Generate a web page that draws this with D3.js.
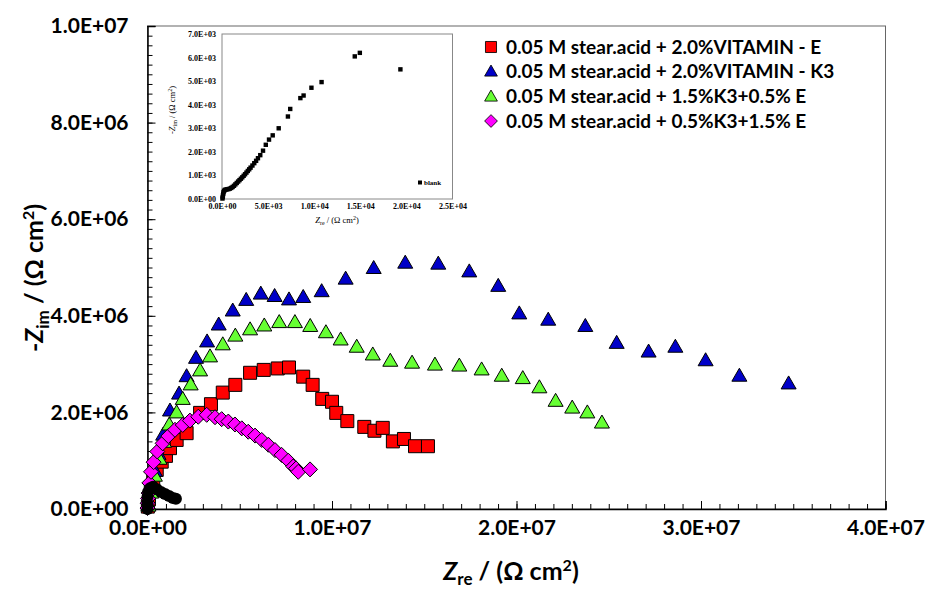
<!DOCTYPE html>
<html><head><meta charset="utf-8">
<script src="https://cdn.jsdelivr.net/npm/d3@7"></script>
<style>body{margin:0;background:#fff}svg{display:block}</style>
</head><body>
<svg id="c" width="928" height="593"></svg>
<script>
// ---------------- DATA ----------------
const seriesNames = [
  "0.05 M stear.acid + 2.0%VITAMIN - E",
  "0.05 M stear.acid + 2.0%VITAMIN - K3",
  "0.05 M stear.acid + 1.5%K3+0.5% E",
  "0.05 M stear.acid + 0.5%K3+1.5% E"
];
// Vitamin E (red squares)
const eX = [0.02e6,0.08e6,0.18e6,0.31e6,0.5e6,0.77e6,1.0e6,1.22e6,1.58e6,2.12e6,2.85e6,3.44e6,4.08e6,4.76e6,5.56e6,6.30e6,7.06e6,7.67e6,8.44e6,8.95e6,9.47e6,10.0e6,10.23e6,10.83e6,11.75e6,12.3e6,12.75e6,13.3e6,13.9e6,14.5e6,15.2e6];
const eY = [0.05e6,0.2e6,0.4e6,0.6e6,0.81e6,0.98e6,1.1e6,1.26e6,1.43e6,1.57e6,1.99e6,2.17e6,2.41e6,2.57e6,2.82e6,2.88e6,2.91e6,2.93e6,2.74e6,2.57e6,2.28e6,2.22e6,1.99e6,1.82e6,1.70e6,1.62e6,1.68e6,1.40e6,1.45e6,1.30e6,1.30e6];
// Vitamin K3 (blue triangles)
const kX = [0.05e6,0.2e6,0.4e6,0.6e6,0.85e6,1.22e6,1.71e6,2.12e6,2.63e6,3.23e6,3.86e6,4.62e6,5.35e6,6.14e6,6.89e6,7.67e6,8.44e6,9.44e6,10.74e6,12.26e6,13.97e6,15.76e6,17.44e6,19.01e6,20.15e6,21.72e6,23.73e6,25.43e6,27.16e6,28.61e6,30.25e6,32.08e6,34.75e6];
const kY = [0.1e6,0.45e6,0.8e6,1.15e6,1.55e6,2.05e6,2.40e6,2.76e6,3.14e6,3.48e6,3.83e6,4.12e6,4.34e6,4.47e6,4.42e6,4.35e6,4.40e6,4.52e6,4.78e6,5.00e6,5.11e6,5.09e6,4.93e6,4.63e6,4.06e6,3.93e6,3.80e6,3.45e6,3.27e6,3.37e6,3.09e6,2.77e6,2.61e6];
// 1.5%K3 + 0.5%E (green triangles)
const gX = [0.05e6,0.2e6,0.4e6,0.65e6,0.9e6,1.18e6,1.58e6,1.91e6,2.34e6,2.85e6,3.39e6,4.08e6,4.76e6,5.56e6,6.33e6,7.14e6,7.99e6,8.82e6,9.67e6,10.47e6,11.34e6,12.21e6,13.16e6,14.34e6,15.58e6,16.90e6,18.11e6,19.20e6,20.34e6,21.24e6,22.12e6,23.02e6,23.84e6,24.63e6];
const gY = [0.08e6,0.35e6,0.7e6,1.05e6,1.4e6,1.76e6,2.01e6,2.29e6,2.59e6,2.88e6,3.17e6,3.42e6,3.60e6,3.73e6,3.81e6,3.88e6,3.88e6,3.80e6,3.67e6,3.52e6,3.37e6,3.21e6,3.08e6,3.04e6,3.00e6,2.98e6,2.90e6,2.77e6,2.72e6,2.53e6,2.25e6,2.11e6,2.01e6,1.80e6];
// 0.5%K3 + 1.5%E (magenta diamonds)
const mX = [0.0e6,0.01e6,0.03e6,0.06e6,0.1e6,0.19e6,0.33e6,0.53e6,0.82e6,1.13e6,1.49e6,1.91e6,2.30e6,2.75e6,3.21e6,3.66e6,4.02e6,4.38e6,4.74e6,5.11e6,5.46e6,5.83e6,6.19e6,6.55e6,6.91e6,7.27e6,7.63e6,7.90e6,8.05e6,8.17e6,8.81e6];
const mY = [0.02e6,0.12e6,0.22e6,0.33e6,0.54e6,0.77e6,0.97e6,1.19e6,1.36e6,1.51e6,1.64e6,1.74e6,1.83e6,1.91e6,1.95e6,1.90e6,1.86e6,1.81e6,1.75e6,1.67e6,1.60e6,1.52e6,1.43e6,1.33e6,1.22e6,1.12e6,1.00e6,0.88e6,0.84e6,0.77e6,0.82e6];
// blank at main scale (black)
const bX = [0.0e6,0.0e6,0.0e6,0.03e6,0.14e6,0.3e6,0.51e6,0.73e6,0.95e6,1.17e6,1.38e6,1.54e6];
const bY = [0.0e6,0.12e6,0.25e6,0.35e6,0.43e6,0.46e6,0.41e6,0.35e6,0.31e6,0.27e6,0.23e6,0.21e6];
// inset: blank
const iX = [50,80,100,130,170,220,300,400,550,700,850,1000,1150,1300,1450,1600,1750,1900,2050,2200,2350,2500,2650,2800,2950,3100,3300,3500,3700,3900,4150,4450,4750,5100,5500,6150,7150,7400,8500,8850,9700,10800,14400,14950,19350];
const iY = [20,80,150,220,290,340,380,400,410,420,440,470,510,560,620,680,740,800,860,920,985,1050,1120,1190,1260,1330,1420,1520,1620,1730,1860,2050,2300,2520,2700,3000,3500,3820,4280,4390,4720,4960,6050,6200,5500];

const xTickValues = [0,1e7,2e7,3e7,4e7];
const xTickLabels = ["0.0E+00","1.0E+07","2.0E+07","3.0E+07","4.0E+07"];
const yTickValues = [0,2e6,4e6,6e6,8e6,1e7];
const yTickLabels = ["0.0E+00","2.0E+06","4.0E+06","6.0E+06","8.0E+06","1.0E+07"];
const ixTickValues = [0,5e3,1e4,1.5e4,2e4,2.5e4];
const ixTickLabels = ["0.0E+00","5.0E+03","1.0E+04","1.5E+04","2.0E+04","2.5E+04"];
const iyTickValues = [0,1e3,2e3,3e3,4e3,5e3,6e3,7e3];
const iyTickLabels = ["0.0E+00","1.0E+03","2.0E+03","3.0E+03","4.0E+03","5.0E+03","6.0E+03","7.0E+03"];

// ---------------- DRAW ----------------
const svg = d3.select("#c");
const FONT = "Lato, 'Open Sans', sans-serif";
const x = d3.scaleLinear([0,4e7],[147.5,885.5]);
const y = d3.scaleLinear([0,1e7],[509,26]);

// frame
svg.append("rect").attr("x",147.5).attr("y",26).attr("width",738).attr("height",483)
  .attr("fill","none").attr("stroke","#666").attr("stroke-width",1);

// minor ticks
const xMinor = d3.range(0,4e7+1,1e6);
const yMinor = d3.range(0,1e7+1,2e5);
const gx = svg.append("g").attr("transform","translate(0,509)");
gx.call(d3.axisBottom(x).tickValues(xMinor).tickSize(-5).tickFormat(""));
gx.select(".domain").remove();
const gxM = svg.append("g").attr("transform","translate(0,509)");
gxM.call(d3.axisBottom(x).tickValues(xTickValues).tickSize(-8).tickPadding(26)
  .tickFormat((d,i)=>xTickLabels[i]));
gxM.select(".domain").attr("stroke","#000").attr("stroke-width",1.5);
gxM.selectAll("text").attr("font-family",FONT).attr("font-weight","bold").attr("font-size",21).attr("fill","#000").attr("dy","0");

const gy = svg.append("g").attr("transform","translate(147.5,0)");
gy.call(d3.axisLeft(y).tickValues(yMinor).tickSize(-5).tickFormat(""));
gy.select(".domain").remove();
const gyM = svg.append("g").attr("transform","translate(147.5,0)");
gyM.call(d3.axisLeft(y).tickValues(yTickValues).tickSize(-8).tickPadding(19)
  .tickFormat((d,i)=>yTickLabels[i]));
gyM.select(".domain").attr("stroke","#000").attr("stroke-width",1.5);
gyM.selectAll("text").attr("font-family",FONT).attr("font-weight","bold").attr("font-size",21).attr("fill","#000");

// axis titles
const xt = svg.append("text").attr("x",511).attr("y",580).attr("text-anchor","middle")
  .attr("font-family",FONT).attr("font-weight","bold").attr("font-size",25);
xt.append("tspan").attr("font-style","italic").text("Z");
xt.append("tspan").attr("font-size",17).attr("dy",5).text("re");
xt.append("tspan").attr("dy",-5).text(" / (Ω cm");
xt.append("tspan").attr("font-size",16).attr("dy",-9).text("2");
xt.append("tspan").attr("dy",9).text(")");

const yt = svg.append("text").attr("transform","translate(43,278) rotate(-90)").attr("text-anchor","middle")
  .attr("font-family",FONT).attr("font-weight","bold").attr("font-size",25);
yt.append("tspan").text("-");
yt.append("tspan").attr("font-style","italic").text("Z");
yt.append("tspan").attr("font-size",17).attr("dy",6).text("im");
yt.append("tspan").attr("dy",-6).text(" / (Ω cm");
yt.append("tspan").attr("font-size",16).attr("dy",-9).text("2");
yt.append("tspan").attr("dy",9).text(")");

// markers
const sq = "M-6.5,-6.5H6.5V6.5H-6.5Z";
const tri = "M0,-7L7.5,6L-7.5,6Z";
const dia = "M0,-7.5L7.5,0L0,7.5L-7.5,0Z";
function plot(xs,ys,path,fill){
  svg.append("g").selectAll("path").data(xs.map((v,i)=>[v,ys[i]])).join("path")
    .attr("d",path).attr("transform",d=>`translate(${x(d[0])},${y(d[1])})`)
    .attr("fill",fill).attr("stroke","#000").attr("stroke-width",1);
}
plot(eX,eY,sq,"#FF0000");
plot(kX,kY,tri,"#0000C8");
plot(gX,gY,tri,"#66FF33");
plot(mX,mY,dia,"#FF00FF");
svg.append("g").selectAll("circle").data(bX.map((v,i)=>[v,bY[i]])).join("circle")
  .attr("cx",d=>x(d[0])).attr("cy",d=>y(d[1])).attr("r",6).attr("fill","#000");

// legend
const legY = [47,71,96,121];
const legPaths = [sq,tri,tri,dia];
const legFill = ["#FF0000","#0000C8","#66FF33","#FF00FF"];
const leg = svg.append("g");
seriesNames.forEach((n,i)=>{
  leg.append("path").attr("d",legPaths[i]).attr("transform",`translate(491,${legY[i]}) scale(0.85)`)
    .attr("fill",legFill[i]).attr("stroke","#000");
  leg.append("text").attr("x",506).attr("y",legY[i]+7).attr("font-family",FONT)
    .attr("font-weight","bold").attr("font-size",19).text(n);
});

// inset
const SER = "'Liberation Serif','Times New Roman',serif";
const ix = d3.scaleLinear([0,2.5e4],[222,452.5]);
const iy = d3.scaleLinear([0,7e3],[199,34]);
const ins = svg.append("g");
ins.append("rect").attr("x",222).attr("y",34).attr("width",230.5).attr("height",165)
  .attr("fill","#fff").attr("stroke","#888").attr("stroke-width",1);
const ixa = ins.append("g").attr("transform","translate(0,199)")
  .call(d3.axisBottom(ix).tickValues(ixTickValues).tickSize(0).tickPadding(4).tickFormat((d,i)=>ixTickLabels[i]));
ixa.select(".domain").remove();
ixa.selectAll("text").attr("font-family",SER).attr("font-weight","bold").attr("font-size",8);
const iya = ins.append("g").attr("transform","translate(222,0)")
  .call(d3.axisLeft(iy).tickValues(iyTickValues).tickSize(0).tickPadding(6).tickFormat((d,i)=>iyTickLabels[i]));
iya.select(".domain").remove();
iya.selectAll("text").attr("font-family",SER).attr("font-weight","bold").attr("font-size",8);
ins.append("g").selectAll("rect").data(iX.map((v,i)=>[v,iY[i]])).join("rect")
  .attr("x",d=>ix(d[0])-2.2).attr("y",d=>iy(d[1])-2.2).attr("width",4.4).attr("height",4.4).attr("fill","#000");
ins.append("rect").attr("x",418).attr("y",180.5).attr("width",4).attr("height",4).attr("fill","#000");
ins.append("text").attr("x",424).attr("y",185).attr("font-family",SER).attr("font-weight","bold").attr("font-size",7).text("blank");
const ixt = ins.append("text").attr("x",337).attr("y",223).attr("text-anchor","middle").attr("font-family",SER).attr("font-size",8.5);
ixt.append("tspan").attr("font-style","italic").text("Z");
ixt.append("tspan").attr("font-size",6).attr("dy",2).text("re");
ixt.append("tspan").attr("dy",-2).text(" / (Ω cm");
ixt.append("tspan").attr("font-size",6).attr("dy",-3).text("2");
ixt.append("tspan").attr("dy",3).text(")");
const iyt = ins.append("text").attr("transform","translate(175,110) rotate(-90)").attr("text-anchor","middle").attr("font-family",SER).attr("font-size",8.5);
iyt.append("tspan").attr("font-style","italic").text("-Z");
iyt.append("tspan").attr("font-size",6).attr("dy",2).text("im");
iyt.append("tspan").attr("dy",-2).text(" / (Ω cm");
iyt.append("tspan").attr("font-size",6).attr("dy",-3).text("2");
iyt.append("tspan").attr("dy",3).text(")");
</script>
</body></html>
